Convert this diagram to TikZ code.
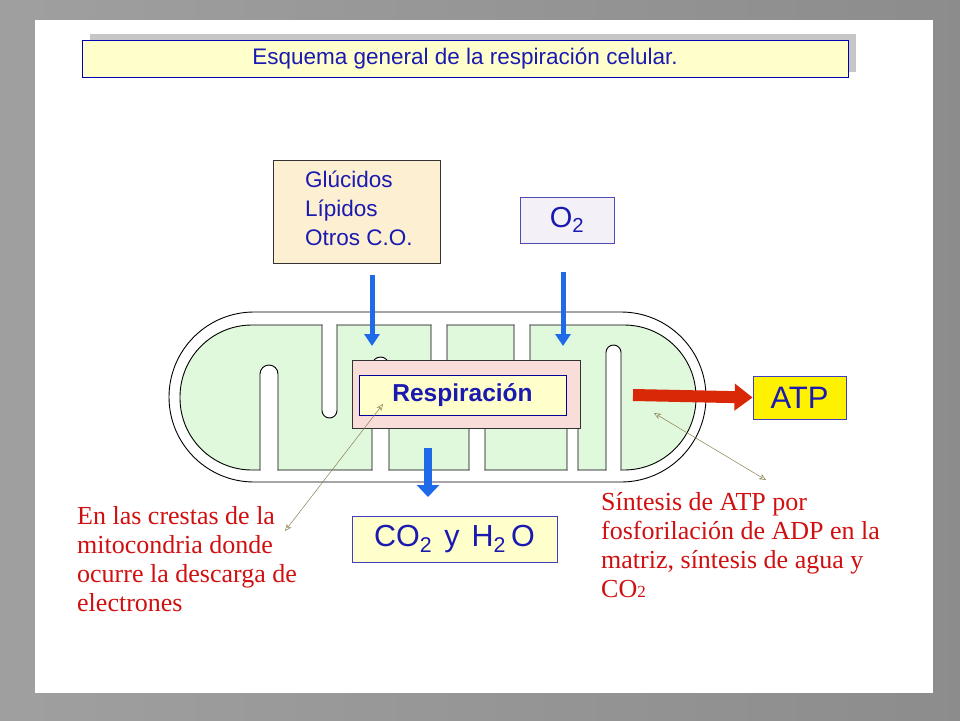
\documentclass[tikz,border=0pt]{standalone}
\usepackage{fontspec}
\setmainfont{Liberation Serif}
\newfontfamily\arialf{Liberation Sans}
\usetikzlibrary{arrows.meta}
\definecolor{txtblue}{HTML}{1A1AB0}
\definecolor{boxyel}{HTML}{FFFFCC}
\definecolor{wheatc}{HTML}{FDEFD2}
\definecolor{lavc}{HTML}{F4F0F8}
\definecolor{greenc}{HTML}{E0F8DC}
\definecolor{pinkc}{HTML}{F9DDD8}
\definecolor{arrblue}{HTML}{1E6AE8}
\definecolor{arrred}{HTML}{D82808}
\definecolor{annred}{HTML}{D01010}
\definecolor{olivec}{HTML}{8C8050}
\tikzset{
  sbox/.style={draw=#1,line width=0.8pt,inner sep=0pt},
  bluearr/.style={draw=arrblue,line width=5pt,-{Triangle[width=15pt,length=12pt]}},
  ann/.style={olivec,line width=0.5pt,{Stealth[open,length=7pt,width=6pt]}-{Stealth[open,length=7pt,width=6pt]}},
  redtxt/.style={font=\fontsize{26}{29}\selectfont,text=annred,align=left,anchor=north west,inner sep=0pt}
}
\begin{document}
\begin{tikzpicture}[x=1pt,y=-1pt]
\useasboundingbox (0,0) rectangle (960,720);
\shade[left color=gray!75,right color=gray!110!black] (0,0) rectangle (960,720);
\fill[white] (35,20) rectangle (933,693);
% title
\fill[gray!45] (90,34) rectangle (856,72);
\node[sbox=blue!70!black,fill=boxyel,minimum width=766pt,minimum height=37pt,font=\arialf\fontsize{22.5}{24}\selectfont,text=txtblue] (title) at (465,58.5) {Esquema general de la respiración celular.};
% mitochondrion
\draw[line width=0.9pt,rounded corners=85pt] (169,312) rectangle (706,482);
\draw[fill=greenc,line width=0.9pt,rounded corners=72pt] (180,325) rectangle (696,470);
\foreach \a/\b/\e in {322/337/418,431/447/405,514/530/405}{
  \pgfmathsetmacro\r{(\b-\a)/2}
  \filldraw[fill=white,line width=0.9pt] (\a,325) -- (\a,\e-\r) arc[start angle=180,end angle=0,radius=\r] -- (\b,325);
  \fill[white] (\a+0.6,322) rectangle (\b-0.6,328);
}
\foreach \a/\b/\e in {260/278/365,372/389/357,469/485/400,567/578/400,606/621/345}{
  \pgfmathsetmacro\r{(\b-\a)/2}
  \filldraw[fill=white,line width=0.9pt] (\a,470) -- (\a,\e+\r) arc[start angle=180,end angle=360,radius=\r] -- (\b,470);
  \fill[white] (\a+0.6,467) rectangle (\b-0.6,473);
}
\node[draw=black!80,line width=0.8pt,fill=pinkc,minimum width=228pt,minimum height=68pt] (pink) at (466,394) {};
\node[sbox=blue!60!black,fill=boxyel,minimum width=207pt,minimum height=40pt,font=\arialf\fontsize{24.5}{26}\selectfont\bfseries,text=txtblue] (resp) at (462.5,395) {Respiración};
% boxes
\node[sbox=black!80,fill=wheatc,minimum width=167pt,minimum height=103pt] (glu) at (356.5,211.5) {};
\node[align=left,anchor=north west,inner sep=0pt,text=txtblue,font=\arialf\fontsize{22.5}{29}\selectfont] (glut) at (305,171) {Glúcidos\\Lípidos\\Otros C.O.};
\node[sbox=blue!40!gray,fill=lavc,minimum width=94pt,minimum height=46pt,font=\arialf\fontsize{29}{30}\selectfont,text=txtblue] (o2) at (567,220) {O\textsubscript{2}};
\node[sbox=blue!50!gray,fill=yellow,minimum width=93pt,minimum height=43pt,font=\arialf\fontsize{31}{32}\selectfont,text=txtblue] (atp) at (799.5,397.5) {ATP};
\node[sbox=blue!50!gray,fill=boxyel,minimum width=205pt,minimum height=46pt,font=\arialf\fontsize{30.5}{32}\selectfont,text=txtblue] (co2) at (454.5,539) {CO\textsubscript{2}\hspace{12pt}y\hspace{12pt}H\textsubscript{2}\,O};
% arrows
\coordinate (a1s) at (372,275); \coordinate (a1e) at (372,346);
\coordinate (a2s) at (563,272); \coordinate (a2e) at (563,346);
\coordinate (a3s) at (428,448); \coordinate (a3e) at (428,497);
\coordinate (a4s) at (633,395);
\draw[bluearr] (a1s) -- (a1e);
\draw[bluearr] (a2s) -- (a2e);
\draw[bluearr,line width=8pt,-{Triangle[width=22pt,length=12pt]}] (a3s) -- (a3e);
\draw[draw=arrred,line width=12pt,-{Triangle[width=26pt,length=18pt]}] (a4s) -- (atp.west);
% annotations
\coordinate (p1) at (383,404); \coordinate (p2) at (285,531);
\coordinate (p3) at (654,413); \coordinate (p4) at (766,480);
\draw[ann] (p1) -- (p2);
\draw[ann] (p3) -- (p4);
\node[redtxt] (lt) at (77,506) {En las crestas de la\\mitocondria donde\\ocurre la descarga de\\electrones};
\node[redtxt] (rt) at (601,492) {Síntesis de ATP por\\fosforilación de ADP en la\\matriz, síntesis de agua y\\CO{\fontsize{17}{18}\selectfont 2}};
\end{tikzpicture}
\end{document}
